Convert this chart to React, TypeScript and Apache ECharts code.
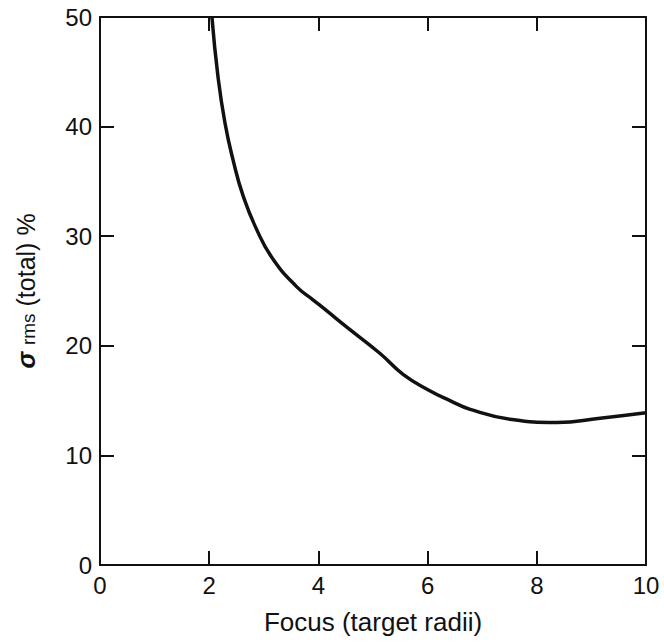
import React, { useEffect, useRef } from "react";
import * as echarts from "echarts";

const focusX = [2.05, 2.16, 2.29, 2.44, 2.62, 2.87, 3.17, 3.6, 3.9, 4.15, 4.52, 5.13, 5.55, 6.04, 6.41, 6.78, 7.51, 8.37, 9.16, 10.0];
const sigmaY = [50, 44.6, 40.3, 36.9, 33.7, 30.6, 27.9, 25.4, 24.2, 23.2, 21.7, 19.3, 17.4, 15.9, 15.0, 14.2, 13.3, 13.0, 13.4, 13.9];
const xTicks = [0, 2, 4, 6, 8, 10];
const yTicks = [0, 10, 20, 30, 40, 50];

const FONT = "Liberation Sans";
const INK = "#111";

const mkLine = () => ({ show: true, onZero: false, lineStyle: { color: INK, width: 2 } });
const mkTick = () => ({ show: true, inside: true, length: 14, lineStyle: { color: INK, width: 2 } });

export default function App() {
  const ref = useRef<HTMLDivElement>(null);
  useEffect(() => {
    document.body.style.margin = "0";
    const chart = echarts.init(ref.current!, null, { renderer: "svg" });
    const data = focusX.map((x, i) => [x, sigmaY[i]]);
    chart.setOption({
      animation: false,
      backgroundColor: "#fff",
      grid: { left: 100, top: 17, right: 18, bottom: 77 },
      xAxis: [
        {
          type: "value",
          position: "bottom",
          min: xTicks[0],
          max: xTicks[xTicks.length - 1],
          interval: 2,
          axisLine: mkLine(),
          axisTick: mkTick(),
          splitLine: { show: false },
          axisLabel: { color: INK, fontFamily: FONT, fontSize: 24, margin: 8 },
          name: "Focus (target radii)",
          nameLocation: "middle",
          nameGap: 44,
          nameTextStyle: { color: INK, fontFamily: FONT, fontSize: 26 },
        },
        {
          type: "value",
          position: "top",
          min: xTicks[0],
          max: xTicks[xTicks.length - 1],
          interval: 2,
          axisLine: mkLine(),
          axisTick: mkTick(),
          splitLine: { show: false },
          axisLabel: { show: false },
        },
      ],
      yAxis: [
        {
          type: "value",
          position: "left",
          min: yTicks[0],
          max: yTicks[yTicks.length - 1],
          interval: 10,
          axisLine: mkLine(),
          axisTick: mkTick(),
          splitLine: { show: false },
          axisLabel: { color: INK, fontFamily: FONT, fontSize: 24, margin: 8 },
          name: "{s|σ} {sub|rms} {t|(total) %}",
          nameLocation: "middle",
          nameRotate: 90,
          nameGap: 62,
          nameTextStyle: {
            color: INK,
            fontFamily: FONT,
            fontSize: 25,
            rich: {
              s: { fontFamily: FONT, fontSize: 25, fontWeight: "bold", fontStyle: "italic", color: INK },
              sub: { fontFamily: FONT, fontSize: 19, color: INK, verticalAlign: "bottom", padding: [6, 0, 0, 0] },
              t: { fontFamily: FONT, fontSize: 25, color: INK },
            },
          },
        },
        {
          type: "value",
          position: "right",
          min: yTicks[0],
          max: yTicks[yTicks.length - 1],
          interval: 10,
          axisLine: mkLine(),
          axisTick: mkTick(),
          splitLine: { show: false },
          axisLabel: { show: false },
        },
      ],
      series: [
        {
          type: "line",
          data,
          smooth: 0.5,
          showSymbol: false,
          symbol: "none",
          lineStyle: { color: INK, width: 3.5 },
        },
      ],
    });
    return () => chart.dispose();
  }, []);
  return <div ref={ref} style={{ width: 664, height: 642 }} />;
}
